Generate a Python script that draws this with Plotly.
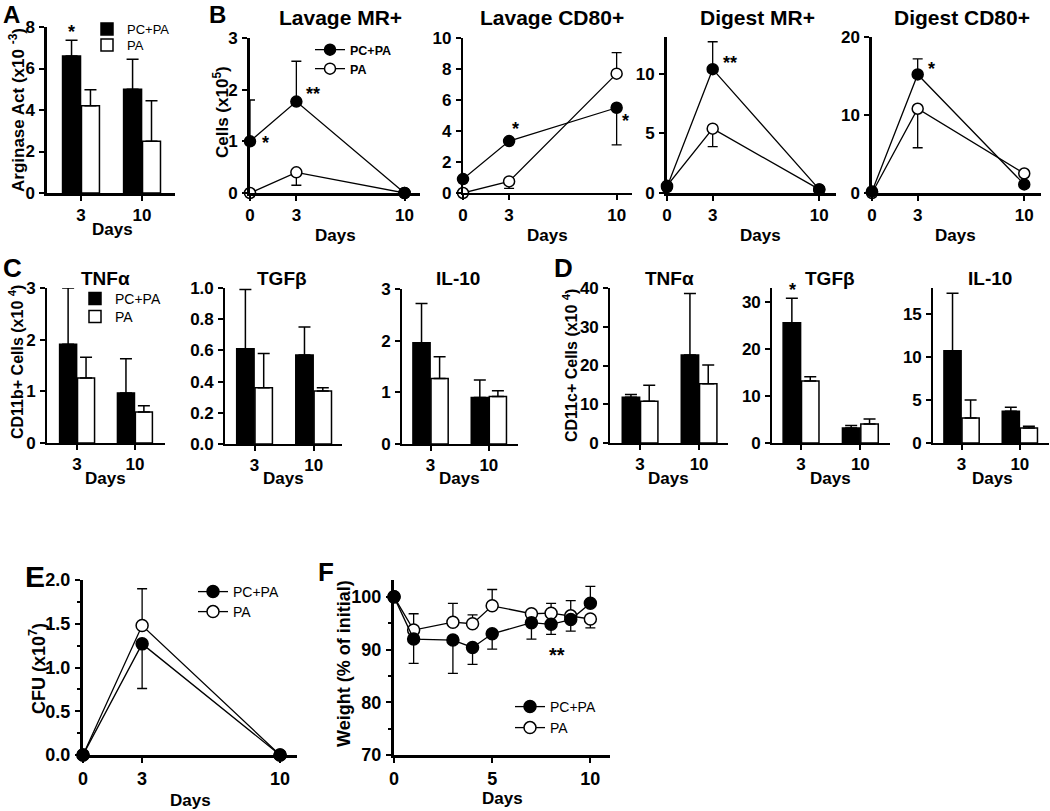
import plotly.graph_objects as go

W, H = 1050, 811
FONT = "Liberation Sans"

# ---------------- data ----------------
bar_days = ["3", "10"]
line_days = [0, 3, 10]

# A: arginase activity
A_pcpa = [6.6, 5.0]
A_pcpa_err = [0.76, 1.45]
A_pa = [4.2, 2.5]
A_pa_err = [0.78, 1.95]

# B: cells (lavage / digest)
mr_pcpa = [1.0, 1.77, 0.0]
mr_pcpa_up = [0.8, 0.78, 0.0]
mr_pa = [0.0, 0.4, 0.0]
mr_pa_dn = [0.0, 0.25, 0.0]

lcd_pcpa = [0.9, 3.35, 5.5]
lcd_pcpa_dn = [0.0, 0.0, 2.4]
lcd_pa = [0.0, 0.75, 7.7]
lcd_pa_up = [0.0, 0.0, 1.35]
lcd_pa_dn = [0.0, 0.45, 0.0]

dmr_pcpa = [0.5, 10.4, 0.3]
dmr_pcpa_up = [0.0, 2.3, 0.0]
dmr_pa = [0.6, 5.4, 0.3]
dmr_pa_dn = [0.0, 1.5, 0.0]

dcd_pcpa = [0.2, 15.2, 1.1]
dcd_pcpa_up = [0.0, 2.0, 0.0]
dcd_pa = [0.0, 10.8, 2.5]
dcd_pa_dn = [0.0, 5.0, 0.0]

# C: CD11b+ cells
C_tnf_pcpa = [1.91, 0.97]; C_tnf_pcpa_err = [1.09, 0.66]
C_tnf_pa = [1.26, 0.60];   C_tnf_pa_err = [0.40, 0.12]
C_tgf_pcpa = [0.61, 0.57]; C_tgf_pcpa_err = [0.38, 0.18]
C_tgf_pa = [0.36, 0.34];   C_tgf_pa_err = [0.22, 0.02]
C_il_pcpa = [1.96, 0.90];  C_il_pcpa_err = [0.76, 0.34]
C_il_pa = [1.27, 0.92];    C_il_pa_err = [0.42, 0.11]

# D: CD11c+ cells
D_tnf_pcpa = [11.8, 22.7]; D_tnf_pcpa_err = [0.7, 15.9]
D_tnf_pa = [10.8, 15.3];   D_tnf_pa_err = [4.1, 4.8]
D_tgf_pcpa = [25.6, 3.2];  D_tgf_pcpa_err = [5.2, 0.5]
D_tgf_pa = [13.2, 4.05];   D_tgf_pa_err = [0.9, 1.05]
D_il_pcpa = [10.7, 3.7];   D_il_pcpa_err = [6.7, 0.45]
D_il_pa = [2.9, 1.75];     D_il_pa_err = [2.1, 0.2]

# E: CFU
E_pcpa = [0.0, 1.27, 0.0]
E_pcpa_dn = [0.0, 0.51, 0.0]
E_pa = [0.0, 1.48, 0.0]
E_pa_up = [0.0, 0.42, 0.0]

# F: weight
F_days = [0, 1, 3, 4, 5, 7, 8, 9, 10]
F_pcpa = [100, 92.0, 91.8, 90.4, 93.0, 95.1, 94.8, 95.7, 98.8]
F_pcpa_up = [0, 0, 0, 0, 0, 0, 0, 0, 3.2]
F_pcpa_dn = [0, 4.6, 6.3, 3.2, 2.9, 3.1, 1.9, 2.2, 0]
F_pa = [100, 93.7, 95.2, 94.9, 98.3, 96.8, 96.9, 96.4, 95.8]
F_pa_up = [0, 3.1, 3.55, 1.7, 3.1, 0, 1.85, 2.9, 0]
F_pa_dn = [0, 0, 0, 0, 0, 0, 0, 0, 1.7]

fig = go.Figure()
layout = {}


def px_x(p):
    return p / W


def px_y(p):
    return 1 - p / H


def add_axes(n, xdom, ydom, xr, yr, ytickvals, lw, xtickvals=None, xcat=False,
             ytickformat=None, yminor=None, tickfont=17):
    xs = "xaxis" if n == 1 else f"xaxis{n}"
    ys = "yaxis" if n == 1 else f"yaxis{n}"
    common = dict(showline=True, linecolor="black", linewidth=lw, showgrid=False,
                  zeroline=False, ticks="outside", ticklen=5, tickwidth=max(lw * 0.8, 1.5),
                  tickcolor="black", automargin=False,
                  tickfont=dict(family=FONT, size=tickfont, color="black", weight="bold"))
    xa = dict(common, domain=[px_x(xdom[0]), px_x(xdom[1])], range=xr,
              anchor=f"y{'' if n == 1 else n}")
    if xcat:
        xa["type"] = "category"
    else:
        xa["tickvals"] = xtickvals
    ya = dict(common, domain=[px_y(ydom[1]), px_y(ydom[0])], range=yr,
              anchor=f"x{'' if n == 1 else n}", tickvals=ytickvals, ticklabelstandoff=1)
    if ytickformat:
        ya["tickformat"] = ytickformat
    if yminor:
        ya["minor"] = dict(dtick=yminor, ticks="outside", ticklen=3,
                           tickwidth=lw * 0.7, tickcolor="black", showgrid=False)
    layout[xs] = xa
    layout[ys] = ya


def ax(n):
    return ("x" if n == 1 else f"x{n}"), ("y" if n == 1 else f"y{n}")


def bars(n, pcpa, pcpa_err, pa, pa_err, legends=None):
    xa, ya = ax(n)
    for name, vals, err, col in (("PC+PA", pcpa, pcpa_err, "black"),
                                 ("PA", pa, pa_err, "white")):
        if legends:
            kw = dict(showlegend=True, legend=legends[0 if name == "PC+PA" else 1])
        else:
            kw = dict(showlegend=False)
        fig.add_trace(go.Bar(
            x=bar_days, y=vals, name=name, xaxis=xa, yaxis=ya,
            marker=dict(color=col, line=dict(color="black", width=1.5)),
            error_y=dict(type="data", array=err, arrayminus=[0] * len(err),
                         symmetric=False, color="black", thickness=1.5, width=6),
            **kw))


def lines(n, x, pcpa, pcpa_up, pcpa_dn, pa, pa_up, pa_dn, msize=11, legends=None):
    xa, ya = ax(n)
    for name, vals, up, dn, col in (("PA", pa, pa_up, pa_dn, "white"),
                                    ("PC+PA", pcpa, pcpa_up, pcpa_dn, "black")):
        if legends:
            kw = dict(showlegend=True, legend=legends[0 if name == "PC+PA" else 1])
        else:
            kw = dict(showlegend=False)
        fig.add_trace(go.Scatter(
            x=x, y=vals, name=name, xaxis=xa, yaxis=ya, mode="lines+markers",
            cliponaxis=False,
            line=dict(color="black", width=1.3),
            marker=dict(size=msize, color=col, line=dict(color="black", width=1.5)),
            error_y=dict(type="data", array=up, arrayminus=dn, symmetric=False,
                         color="black", thickness=1.3, width=5),
            **kw))


zeros3 = [0, 0, 0]

# ---- A ----
add_axes(1, (47, 175), (27, 193), [-0.557, 1.54], [0, 8], [0, 2, 4, 6, 8], 2.5, xcat=True)
bars(1, A_pcpa, A_pcpa_err, A_pa, A_pa_err, legends=("legend", "legend2"))

# ---- B ----
add_axes(2, (250, 420), (38, 193), [0, 11], [0, 3], [0, 1, 2, 3], 3, xtickvals=line_days)
lines(2, line_days, mr_pcpa, mr_pcpa_up, zeros3, mr_pa, zeros3, mr_pa_dn,
      legends=("legend3", "legend4"))
add_axes(3, (463, 632), (38, 193), [0, 11], [0, 10], [0, 2, 4, 6, 8, 10], 2.3, xtickvals=line_days)
lines(3, line_days, lcd_pcpa, zeros3, lcd_pcpa_dn, lcd_pa, lcd_pa_up, lcd_pa_dn)
add_axes(4, (667, 836), (37, 193), [0, 11.1], [0, 13.1], [0, 5, 10], 3, xtickvals=line_days)
lines(4, line_days, dmr_pcpa, dmr_pcpa_up, zeros3, dmr_pa, zeros3, dmr_pa_dn)
add_axes(5, (872, 1041), (37, 193), [0, 11.1], [0, 20], [0, 10, 20], 2.5, xtickvals=line_days)
lines(5, line_days, dcd_pcpa, dcd_pcpa_up, zeros3, dcd_pa, zeros3, dcd_pa_dn)

# ---- C ----
add_axes(6, (47, 165), (288, 443), [-0.52, 1.52], [0, 3], [0, 1, 2, 3], 1.6, xcat=True)
bars(6, C_tnf_pcpa, C_tnf_pcpa_err, C_tnf_pa, C_tnf_pa_err, legends=("legend5", "legend6"))
add_axes(7, (225, 342), (288, 444), [-0.5, 1.48], [0, 1], [0, 0.2, 0.4, 0.6, 0.8, 1.0], 1.6,
         xcat=True, ytickformat=".1f")
bars(7, C_tgf_pcpa, C_tgf_pcpa_err, C_tgf_pa, C_tgf_pa_err)
add_axes(8, (402, 518), (289, 444), [-0.49, 1.5], [0, 3], [0, 1, 2, 3], 1.6, xcat=True)
bars(8, C_il_pcpa, C_il_pcpa_err, C_il_pa, C_il_pa_err)

# ---- D ----
add_axes(9, (610, 728), (288, 443), [-0.51, 1.49], [0, 40], [0, 10, 20, 30, 40], 1.6, xcat=True)
bars(9, D_tnf_pcpa, D_tnf_pcpa_err, D_tnf_pa, D_tnf_pa_err)
add_axes(10, (772, 890), (288, 443), [-0.49, 1.5], [0, 33], [0, 10, 20, 30], 1.6, xcat=True)
bars(10, D_tgf_pcpa, D_tgf_pcpa_err, D_tgf_pa, D_tgf_pa_err)
add_axes(11, (933, 1049), (288, 443), [-0.49, 1.5], [0, 18], [0, 5, 10, 15], 1.6, xcat=True)
bars(11, D_il_pcpa, D_il_pcpa_err, D_il_pa, D_il_pa_err)

# ---- E ----
add_axes(12, (83, 297), (580, 755), [0, 10.86], [0, 2], [0, 0.5, 1.0, 1.5, 2.0], 3,
         xtickvals=line_days, ytickformat=".1f", yminor=0.25, tickfont=18)
lines(12, line_days, E_pcpa, zeros3, E_pcpa_dn, E_pa, E_pa_up, zeros3, msize=12,
      legends=("legend7", "legend8"))

# ---- F ----
add_axes(13, (394, 610), (580, 755), [0, 11], [70, 103.2], [70, 80, 90, 100], 3,
         xtickvals=[0, 5, 10], yminor=5, tickfont=18)
lines(13, F_days, F_pcpa, F_pcpa_up, F_pcpa_dn, F_pa, F_pa_up, F_pa_dn, msize=12,
      legends=("legend9", "legend10"))


# ---- legends (one entry each, placed individually) ----
def leg(x, y, size, bold):
    f = dict(family=FONT, size=size, color="black")
    if bold:
        f["weight"] = "bold"
    return dict(x=px_x(x), y=px_y(y), xanchor="left", yanchor="middle",
                bgcolor="rgba(0,0,0,0)", borderwidth=0, font=f, itemwidth=30)


layout["legend"] = leg(87, 29, 13, False)
layout["legend2"] = leg(87, 45, 13, False)
layout["legend3"] = leg(310, 50, 12.5, True)
layout["legend4"] = leg(310, 69, 12.5, True)
layout["legend5"] = leg(75, 299, 14, False)
layout["legend6"] = leg(75, 317, 14, False)
layout["legend7"] = leg(193, 592, 14, False)
layout["legend8"] = leg(193, 612, 14, False)
layout["legend9"] = leg(510, 707, 14, False)
layout["legend10"] = leg(510, 728, 14, False)

# ---- text annotations ----
ann = []


def ptext(x, y, text, size, bold=True, angle=0, xanchor="center"):
    ann.append(dict(x=px_x(x), y=px_y(y), xref="paper", yref="paper", text=text,
                    showarrow=False, textangle=angle, xanchor=xanchor, yanchor="middle",
                    font=dict(family=FONT, size=size, color="black",
                              weight="bold" if bold else "normal")))


def star(n, x, y, text, xshift=0, yshift=0, xanchor="center", yanchor="middle", size=18):
    xa, ya = ax(n)
    ann.append(dict(x=x, y=y, xref=xa, yref=ya, text=text, showarrow=False,
                    xshift=xshift, yshift=yshift, xanchor=xanchor, yanchor=yanchor,
                    font=dict(family=FONT, size=size, color="black", weight="bold")))


# panel letters
ptext(11, 15, "A", 24)
ptext(217, 15, "B", 24)
ptext(12, 268, "C", 26)
ptext(563, 268, "D", 26)
ptext(35, 576, "E", 30)
ptext(326, 572, "F", 26)

# titles
ptext(340, 18, "Lavage MR+", 21)
ptext(552, 18, "Lavage CD80+", 21)
ptext(757, 18, "Digest MR+", 21)
ptext(962, 18, "Digest CD80+", 21)
ptext(105, 278, "TNFα", 19)
ptext(282, 278, "TGFβ", 19)
ptext(458, 278, "IL-10", 19)
ptext(669, 278, "TNFα", 19)
ptext(830, 278, "TGFβ", 19)
ptext(990, 278, "IL-10", 19)

# x titles
for x, y in ((112, 229), (335, 235), (547, 235), (760, 235), (955, 235),
             (105, 478), (283, 478), (459, 478), (668, 478), (830, 478), (992, 478),
             (190, 800), (502, 798)):
    ptext(x, y, "Days", 17)

# y titles
ptext(17, 110, "Arginase Act (x10 <sup>-3</sup>)", 17, angle=-90)
ptext(221, 112, "Cells (x10<sup>5</sup>)", 17, angle=-90)
ptext(16, 362, "CD11b+ Cells (x10 <sup>4</sup>)", 16, angle=-90)
ptext(570, 366, "CD11c+ Cells (x10 <sup>4</sup>)", 16, angle=-90)
ptext(37, 669, "CFU (x10<sup>7</sup>)", 18, angle=-90)
ptext(344, 664, "Weight (% of initial)", 18, angle=-90)

# significance stars
star(1, 0, A_pcpa[0] + A_pcpa_err[0], "*", xshift=-10, yanchor="bottom", yshift=-4)
star(2, line_days[0], mr_pcpa[0], "*", xshift=10, yshift=-2, xanchor="left")
star(2, line_days[1], mr_pcpa[1], "**", xshift=8, yshift=8, xanchor="left")
star(3, line_days[1], lcd_pcpa[1], "*", xshift=1, yshift=12, xanchor="left")
star(3, line_days[2], lcd_pcpa[2], "*", xshift=3, yshift=-13, xanchor="left")
star(4, line_days[1], dmr_pcpa[1], "**", xshift=8, yshift=6, xanchor="left")
star(5, line_days[1], dcd_pcpa[1], "*", xshift=8, yshift=5, xanchor="left")
star(10, 0, D_tgf_pcpa[0] + D_tgf_pcpa_err[0], "*", xshift=-9, yanchor="bottom", yshift=-4)
star(13, 8.3, 89, "**", size=20)

layout["annotations"] = ann

fig.update_layout(**layout)
fig.update_layout(
    width=W, height=H, autosize=False,
    margin=dict(l=0, r=0, t=0, b=0, autoexpand=False),
    paper_bgcolor="white", plot_bgcolor="white",
    barmode="group", bargap=0.38, bargroupgap=0.05,
    font=dict(family=FONT, color="black"),
)

fig.write_html("out.html", config={"displayModeBar": False},
               post_script="document.body.style.margin='0px';document.body.style.overflow='hidden';")
